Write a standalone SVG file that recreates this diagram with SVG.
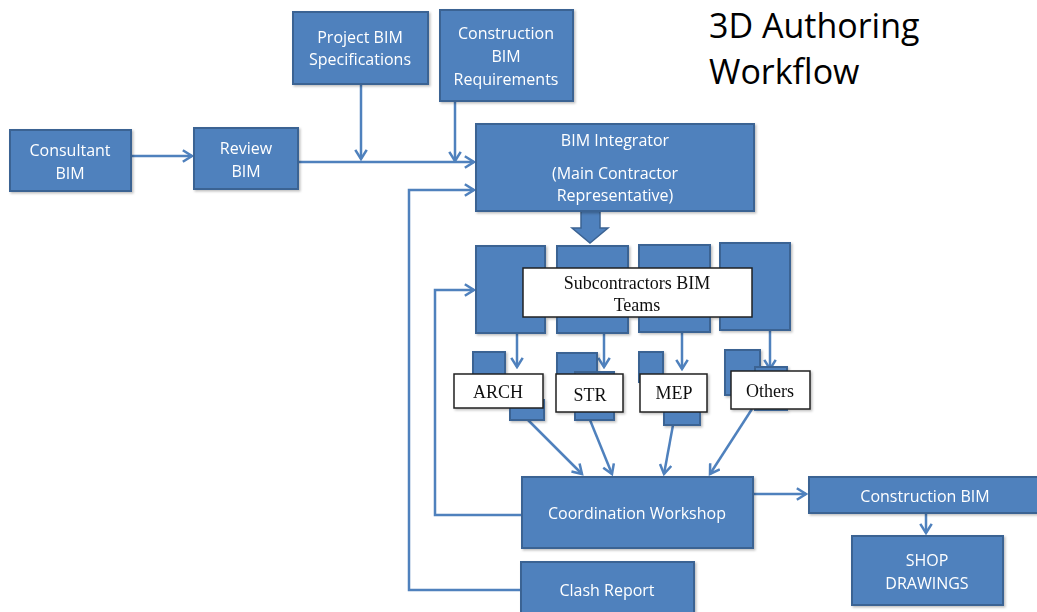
<svg xmlns="http://www.w3.org/2000/svg" width="1037" height="612" viewBox="0 0 1037 612">
  <style>
    .box { fill: #4F81BD; stroke: #3B6393; stroke-width: 2; }
    .wbox { fill: #FFFFFF; stroke: #222222; stroke-width: 1.5; }
    .lbl { font-family: "Open Sans", "Liberation Sans", sans-serif; font-size: 16px; fill: #FFFFFF; text-anchor: middle; }
    .ser { font-family: "Liberation Serif", "DejaVu Serif", serif; font-size: 18px; fill: #111111; text-anchor: middle; }
    .title { font-family: "Open Sans", "Liberation Sans", sans-serif; font-size: 34px; fill: #000000; }
    .link { fill: none; stroke: #4F81BD; stroke-width: 2.5; }
  </style>
  <defs>
    <marker id="arr" viewBox="0 0 12 12" refX="10" refY="6" markerWidth="5.5" markerHeight="5.5" markerUnits="strokeWidth" orient="auto">
      <path d="M2,1 L10,6 L2,11" fill="none" stroke="#4F81BD" stroke-width="2.2"/>
    </marker>
    <filter id="sh" x="-10%" y="-10%" width="130%" height="130%">
      <feDropShadow dx="1.5" dy="1.5" stdDeviation="1" flood-color="#000" flood-opacity="0.25"/>
    </filter>
  </defs>

  <rect width="1037" height="612" fill="#FFFFFF"/>

  <g id="title">
    <text class="title" x="709" y="38">3D Authoring</text>
    <text class="title" x="709" y="84">Workflow</text>
  </g>

  <!-- connectors -->
  <g id="connectors">
    <line class="link" x1="131" y1="156" x2="192" y2="156" marker-end="url(#arr)"/>
    <line class="link" x1="298" y1="162" x2="474" y2="162" marker-end="url(#arr)"/>
    <line class="link" x1="361" y1="84" x2="361" y2="159" marker-end="url(#arr)"/>
    <line class="link" x1="455" y1="101" x2="455" y2="161" marker-end="url(#arr)"/>
    <polyline class="link" points="521,590 409,590 409,190 474,190" marker-end="url(#arr)"/>
    <polyline class="link" points="522,515 435,515 435,290 474,290" marker-end="url(#arr)"/>
    <line class="link" x1="517" y1="333" x2="517" y2="367" marker-end="url(#arr)"/>
    <line class="link" x1="604" y1="333" x2="604" y2="367" marker-end="url(#arr)"/>
    <line class="link" x1="682" y1="332" x2="682" y2="369" marker-end="url(#arr)"/>
    <line class="link" x1="770" y1="330" x2="770" y2="369" marker-end="url(#arr)"/>
    <line class="link" x1="528" y1="420" x2="582" y2="474" marker-end="url(#arr)"/>
    <line class="link" x1="590" y1="420" x2="612" y2="474" marker-end="url(#arr)"/>
    <line class="link" x1="673" y1="425" x2="664" y2="474" marker-end="url(#arr)"/>
    <line class="link" x1="752" y1="409" x2="710" y2="474" marker-end="url(#arr)"/>
    <line class="link" x1="753" y1="494" x2="806" y2="494" marker-end="url(#arr)"/>
    <line class="link" x1="926" y1="513" x2="926" y2="533" marker-end="url(#arr)"/>
    <!-- block arrow from integrator to the team blocks -->
    <path d="M581,211 L600,211 L600,228 L608,228 L590,243 L572,228 L581,228 Z" fill="#4F81BD" stroke="#3B6393" stroke-width="1.5"/>
  </g>

  <g id="consultant-bim" filter="url(#sh)">
    <rect class="box" x="10" y="130" width="121" height="61"/>
    <text class="lbl" x="70" y="156">Consultant</text>
    <text class="lbl" x="70" y="179">BIM</text>
  </g>

  <g id="review-bim" filter="url(#sh)">
    <rect class="box" x="194" y="128" width="104" height="61"/>
    <text class="lbl" x="246" y="154">Review</text>
    <text class="lbl" x="246" y="177">BIM</text>
  </g>

  <g id="project-bim-spec" filter="url(#sh)">
    <rect class="box" x="293" y="12" width="135" height="72"/>
    <text class="lbl" x="360" y="43">Project BIM</text>
    <text class="lbl" x="360" y="65">Specifications</text>
  </g>

  <g id="construction-bim-req" filter="url(#sh)">
    <rect class="box" x="440" y="10" width="133" height="91"/>
    <text class="lbl" x="506" y="39">Construction</text>
    <text class="lbl" x="506" y="62">BIM</text>
    <text class="lbl" x="506" y="85">Requirements</text>
  </g>

  <g id="bim-integrator" filter="url(#sh)">
    <rect class="box" x="476" y="124" width="278" height="87"/>
    <text class="lbl" x="615" y="146">BIM Integrator</text>
    <text class="lbl" x="615" y="179">(Main Contractor</text>
    <text class="lbl" x="615" y="201">Representative)</text>
  </g>

  <g id="subcontractor-teams" filter="url(#sh)">
    <rect class="box" x="476" y="246" width="69" height="87"/>
    <rect class="box" x="557" y="246" width="71" height="87"/>
    <rect class="box" x="639" y="245" width="71" height="87"/>
    <rect class="box" x="720" y="243" width="70" height="87"/>
    <rect class="wbox" x="523" y="268" width="229" height="49"/>
    <text class="ser" x="637" y="289" font-size="19">Subcontractors BIM</text>
    <text class="ser" x="637" y="311" font-size="19">Teams</text>
  </g>

  <g id="arch" filter="url(#sh)">
    <rect class="box" x="473" y="352" width="32" height="26"/>
    <rect class="box" x="510" y="400" width="34" height="20"/>
    <rect class="wbox" x="454" y="374" width="89" height="34"/>
    <text class="ser" x="498" y="398">ARCH</text>
  </g>

  <g id="str" filter="url(#sh)">
    <rect class="box" x="557" y="353" width="40" height="27"/>
    <rect class="box" x="575" y="372" width="39" height="48"/>
    <rect class="wbox" x="556" y="374" width="67" height="38"/>
    <text class="ser" x="590" y="401">STR</text>
  </g>

  <g id="mep" filter="url(#sh)">
    <rect class="box" x="639" y="352" width="24" height="30"/>
    <rect class="box" x="664" y="405" width="36" height="20"/>
    <rect class="wbox" x="640" y="374" width="67" height="38"/>
    <text class="ser" x="674" y="399">MEP</text>
  </g>

  <g id="others" filter="url(#sh)">
    <rect class="box" x="725" y="350" width="35" height="45"/>
    <rect class="box" x="755" y="367" width="32" height="43"/>
    <rect class="wbox" x="731" y="371" width="79" height="38"/>
    <text class="ser" x="770" y="397">Others</text>
  </g>

  <g id="coordination-workshop" filter="url(#sh)">
    <rect class="box" x="522" y="477" width="231" height="71"/>
    <text class="lbl" x="637" y="519">Coordination Workshop</text>
  </g>

  <g id="construction-bim" filter="url(#sh)">
    <rect class="box" x="809" y="477" width="235" height="36"/>
    <text class="lbl" x="925" y="502">Construction BIM</text>
  </g>

  <g id="shop-drawings" filter="url(#sh)">
    <rect class="box" x="852" y="536" width="151" height="69"/>
    <text class="lbl" x="927" y="566">SHOP</text>
    <text class="lbl" x="927" y="589">DRAWINGS</text>
  </g>

  <g id="clash-report" filter="url(#sh)">
    <rect class="box" x="521" y="562" width="173" height="56"/>
    <text class="lbl" x="607" y="596">Clash Report</text>
  </g>
</svg>
